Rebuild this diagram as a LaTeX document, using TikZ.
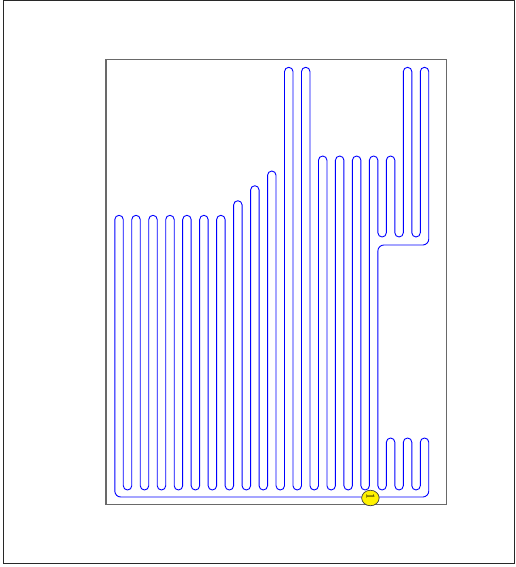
\documentclass[tikz,border=0pt]{standalone}
\usetikzlibrary{shapes.geometric}
\definecolor{pipeblue}{RGB}{0,0,255}
\definecolor{framegray}{RGB}{105,105,105}
\definecolor{outergray}{RGB}{40,40,40}
\begin{document}
\begin{tikzpicture}[x=1pt,y=-1pt,
  pipe/.style={draw=pipeblue, line width=0.9pt, line join=round},
  outerframe/.style={draw=outergray, line width=1pt},
  innerframe/.style={draw=framegray, line width=1.4pt},
  marker/.style={ellipse, draw=black!75, line width=0.7pt, fill=yellow, minimum width=17.5pt, minimum height=15.5pt, inner sep=0pt},
  markertext/.style={rotate=-90, inner sep=0pt, font=\fontsize{12}{12}\selectfont}]
\useasboundingbox (0,0) rectangle (516,567);
\def\xz{114.8}
\def\hp{8.486}
\def\hr{4.243}
\def\crn{6}
\draw[outerframe] (3.3,0.8) rectangle (514.3,563.3);
\draw[innerframe] (105.8,59.8) rectangle (446.7,504.3);
\draw[pipe] (\xz, {497-\crn})
  \foreach \k/\t in {0/215.3,1/215.3,2/215.3,3/215.3,4/215.3,5/215.3,6/215.3,7/200.7,8/185.7,9/171,10/67.3,11/67.3,12/156,13/156,14/156} {
    -- ({\xz+2*\k*\hp}, {\t+\hr}) arc (180:360:\hr)
    -- ({\xz+(2*\k+1)*\hp}, {490-\hr}) arc (180:0:\hr)
  }
  \foreach \k/\t in {15/156,16/156,17/67.3} {
    -- ({\xz+2*\k*\hp}, {\t+\hr}) arc (180:360:\hr)
    -- ({\xz+(2*\k+1)*\hp}, {237-\hr}) arc (180:0:\hr)
  }
  -- ({\xz+36*\hp}, {67.3+\hr}) arc (180:360:\hr)
  -- ({\xz+37*\hp}, {245-\crn}) arc (0:90:\crn)
  -- ({\xz+31*\hp+\crn}, 245) arc (270:180:\crn)
  -- ({\xz+31*\hp}, {490-\hr}) arc (180:0:\hr)
  \foreach \k in {16,17} {
    -- ({\xz+2*\k*\hp}, {438+\hr}) arc (180:360:\hr)
    -- ({\xz+(2*\k+1)*\hp}, {490-\hr}) arc (180:0:\hr)
  }
  -- ({\xz+36*\hp}, {438+\hr}) arc (180:360:\hr)
  -- ({\xz+37*\hp}, {497-\crn}) arc (0:90:\crn)
  -- ({\xz+\crn}, 497) arc (90:180:\crn)
  -- cycle;
\node[marker] (m1) at (370.4,498) {};
\node[markertext] (m1t) at (370.5,496.5) {1};
\end{tikzpicture}
\end{document}
